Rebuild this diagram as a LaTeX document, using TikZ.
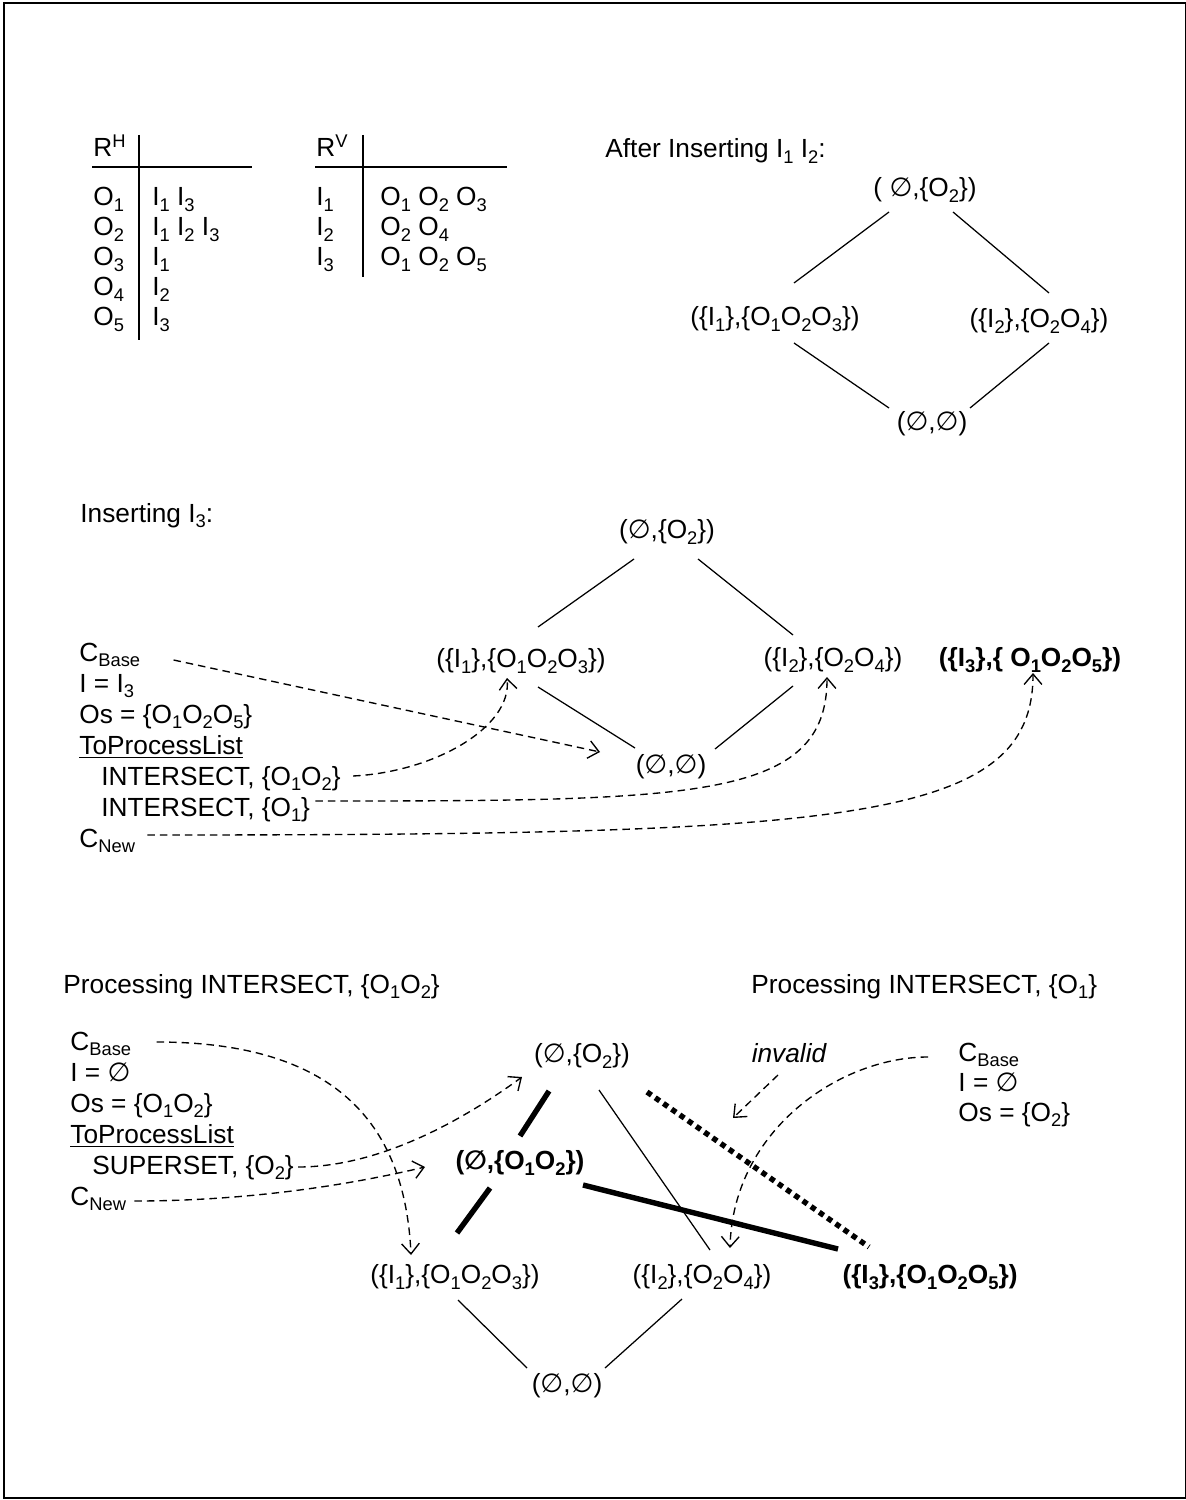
\documentclass[tikz,border=0pt]{standalone}
\usepackage{fontspec}
\setmainfont{Liberation Sans}
\newfontfamily\symf{DejaVu Sans}
\usetikzlibrary{arrows.meta,calc}
\newcommand{\sub}[1]{\raisebox{-2.6pt}{\fontsize{8.8}{10}\selectfont #1}}
\newcommand{\es}{{\symf\char"2205}}
\tikzset{
  lst/.style={anchor=base west,inner sep=0pt},
  latt/.style={inner sep=0pt},
  bold/.style={font=\fontsize{12.6}{15}\selectfont\bfseries},
  conn/.style={line width=0.6pt},
  heavy/.style={line width=2.6pt},
  invalidln/.style={line width=2.6pt,dash pattern=on 2.6pt off 2.2pt},
  ptr/.style={-{Straight Barb[length=5pt,width=8.5pt]},line width=0.65pt,dash pattern=on 3.6pt off 2.4pt},
}
\begin{document}
\begin{tikzpicture}[x=0.48pt,y=-0.48pt,font=\fontsize{12.6}{15}\selectfont]
  \useasboundingbox (0,0) rectangle (1185,1500);
  \draw[line width=0.8pt] (4,3) rectangle (1186,1498);
  % relation tables
  \node[lst] (rh) at (93,157) {R\textsuperscript{H}};
  \node[lst] (rh1) at (93,206) {O\sub1};
  \node[lst] (rh2) at (93,236) {O\sub2};
  \node[lst] (rh3) at (93,266) {O\sub3};
  \node[lst] (rh4) at (93,296) {O\sub4};
  \node[lst] (rh5) at (93,326) {O\sub5};
  \node[lst] (rhv1) at (152,206) {I\sub1 I\sub3};
  \node[lst] (rhv2) at (152,236) {I\sub1 I\sub2 I\sub3};
  \node[lst] (rhv3) at (152,266) {I\sub1};
  \node[lst] (rhv4) at (152,296) {I\sub2};
  \node[lst] (rhv5) at (152,326) {I\sub3};
  \draw[conn] (92,167) -- (252,167);
  \draw[conn] (139,135) -- (139,340);
  \node[lst] (rv) at (316,157) {R\textsuperscript{V}};
  \node[lst] (rv1) at (316,206) {I\sub1};
  \node[lst] (rv2) at (316,236) {I\sub2};
  \node[lst] (rv3) at (316,266) {I\sub3};
  \node[lst] (rvv1) at (380,206) {O\sub1 O\sub2 O\sub3};
  \node[lst] (rvv2) at (380,236) {O\sub2 O\sub4};
  \node[lst] (rvv3) at (380,266) {O\sub1 O\sub2 O\sub5};
  \draw[conn] (315,167) -- (507,167);
  \draw[conn] (363,135) -- (363,277);
  % lattice after I1 I2
  \node[lst] (hd1) at (605,158) {After Inserting I\sub1 I\sub2:};
  \node[latt] (t1) at (925,190) {( \es,\{O\sub2\})};
  \node[latt] (l1) at (775,319) {(\{I\sub1\},\{O\sub1O\sub2O\sub3\})};
  \node[latt] (r1) at (1039,321) {(\{I\sub2\},\{O\sub2O\sub4\})};
  \node[latt] (b1) at (932,424) {(\es,\es)};
  \draw[conn] ($(t1)+(-36,22)$) -- ($(l1)+(19,-36)$);
  \draw[conn] ($(t1)+(28,22)$) -- ($(r1)+(10,-28)$);
  \draw[conn] ($(l1)+(19,24)$) -- ($(b1)+(-43,-16)$);
  \draw[conn] ($(r1)+(10,22)$) -- ($(b1)+(38,-16)$);
  % inserting I3
  \node[lst] (hd2) at (80,522) {Inserting I\sub3:};
  \node[latt] (t2) at (667,532) {(\es,\{O\sub2\})};
  \node[latt] (l2) at (521,661) {(\{I\sub1\},\{O\sub1O\sub2O\sub3\})};
  \node[latt] (r2) at (833,660) {(\{I\sub2\},\{O\sub2O\sub4\})};
  \node[latt,bold] (n3) at (1030,660) {(\{I\sub3\},\{ O\sub1O\sub2O\sub5\})};
  \node[latt] (b2) at (671,767) {(\es,\es)};
  \draw[conn] ($(t2)+(-33,27)$) -- ($(l2)+(17,-34)$);
  \draw[conn] ($(t2)+(31,27)$) -- ($(r2)+(-40,-25)$);
  \draw[conn] ($(l2)+(17,26)$) -- ($(b2)+(-36,-19)$);
  \draw[conn] ($(r2)+(-40,26)$) -- ($(b2)+(44,-18)$);
  \node[lst] (mc0) at (79,661) {C\sub{Base}};
  \node[lst] (mc1) at (79,692) {I = I\sub3};
  \node[lst] (mc2) at (79,723) {Os = \{O\sub1O\sub2O\sub5\}};
  \node[lst] (mc3) at (79,754) {\underline{ToProcessList}};
  \node[lst] (mc4) at (101,785) {INTERSECT, \{O\sub1O\sub2\}};
  \node[lst] (mc5) at (101,816) {INTERSECT, \{O\sub1\}};
  \node[lst] (mc6) at (79,847) {C\sub{New}};
  \draw[ptr] ($(mc0.base east)+(33,-1)$) -- ($(b2)+(-71,-15)$);
  \draw[ptr] ($(mc4.base east)+(12,-9)$) .. controls +(80,-4) and +(5,50) .. ($(l2)+(-14,17)$);
  \draw[ptr] ($(mc5.base east)+(5,-15)$) .. controls +(380,0) and +(0,123) .. ($(r2)+(-6,17)$);
  \draw[ptr] ($(mc6.base east)+(12,-12)$) .. controls +(700,0) and +(0,150) .. ($(n3)+(3,13)$);
  % processing INTERSECT, {O1O2} and {O1}
  \node[lst] (hd3) at (63,993) {Processing INTERSECT, \{O\sub1O\sub2\}};
  \node[lst] (hd4) at (751,993) {Processing INTERSECT, \{O\sub1\}};
  \node[lst] (bc0) at (70,1050) {C\sub{Base}};
  \node[lst] (bc1) at (70,1081) {I = \es};
  \node[lst] (bc2) at (70,1112) {Os = \{O\sub1O\sub2\}};
  \node[lst] (bc3) at (70,1143) {\underline{ToProcessList}};
  \node[lst] (bc4) at (92,1174) {SUPERSET, \{O\sub2\}};
  \node[lst] (bc5) at (70,1205) {C\sub{New}};
  \node[lst] (rc0) at (958,1061) {C\sub{Base}};
  \node[lst] (rc1) at (958,1091) {I = \es};
  \node[lst] (rc2) at (958,1121) {Os = \{O\sub2\}};
  \node[latt,font=\fontsize{12.6}{15}\selectfont\itshape] (inv) at (789,1053) {invalid};
  \node[latt] (t3) at (582,1056) {(\es,\{O\sub2\})};
  \node[latt,bold] (n12) at (520,1163) {(\es,\{O\sub1O\sub2\})};
  \node[latt] (l3) at (455,1277) {(\{I\sub1\},\{O\sub1O\sub2O\sub3\})};
  \node[latt] (r3) at (702,1277) {(\{I\sub2\},\{O\sub2O\sub4\})};
  \node[latt,bold] (n13) at (930,1277) {(\{I\sub3\},\{O\sub1O\sub2O\sub5\})};
  \node[latt] (b3) at (567,1386) {(\es,\es)};
  \draw[heavy] ($(t3)+(-33,35)$) -- ($(n12)+(0,-27)$);
  \draw[heavy] ($(n12)+(-30,25)$) -- ($(l3)+(2,-44)$);
  \draw[heavy] ($(n12)+(63,22)$) -- ($(n13)+(-92,-28)$);
  \draw[conn] ($(t3)+(17,34)$) -- ($(r3)+(8,-27)$);
  \draw[invalidln] ($(t3)+(65,36)$) -- ($(n13)+(-61,-30)$);
  \draw[conn] ($(l3)+(3,23)$) -- ($(b3)+(-40,-18)$);
  \draw[conn] ($(r3)+(-20,22)$) -- ($(b3)+(38,-18)$);
  \draw[ptr] ($(bc0.base east)+(25,-8)$) .. controls +(175,0) and +(-6,-135) .. ($(l3)+(-44,-22)$);
  \draw[ptr] ($(bc4.base east)+(4,-7)$) .. controls +(86,0) and +(-52,38) .. ($(t3)+(-60,21)$);
  \draw[ptr] ($(bc5.base east)+(8,-4)$) .. controls +(130,0) and +(-55,13) .. ($(n12)+(-95,4)$);
  \draw[ptr] ($(rc0.base west)+(-30,-4)$) .. controls +(-88,0) and +(3,-118) .. ($(r3)+(28,-29)$);
  \coordinate (invtip) at ($(inv)+(-56,65)$);
  \draw[ptr] ($(inv)+(-11,22)$) -- (invtip);
\end{tikzpicture}
\end{document}
